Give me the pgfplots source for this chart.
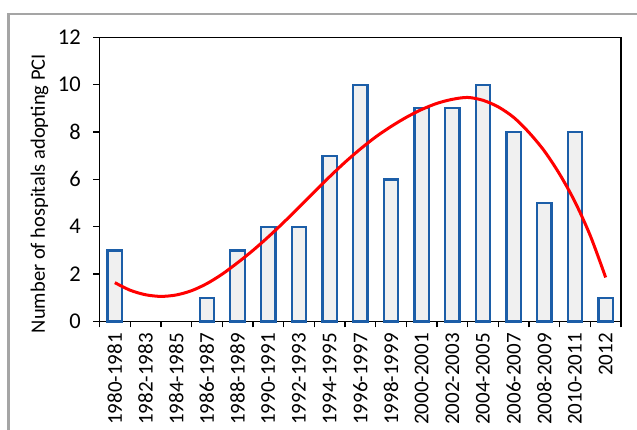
\documentclass[border=0pt]{standalone}
\usepackage{fontspec}
\setmainfont{Carlito}
\usepackage{pgfplots}
\pgfplotsset{compat=1.18}
\definecolor{barblue}{RGB}{28,94,168}
\definecolor{barfill}{RGB}{240,240,240}
\definecolor{framegray}{RGB}{165,165,165}
\begin{document}
\begin{tikzpicture}[x=1pt,y=1pt]
\path[use as bounding box] (0,0) rectangle (637,430);
\draw[framegray, line width=2.7pt] (8.7,0) -- (8.7,416) -- (637,416);
\begin{axis}[
  at={(99.5pt,108.5pt)}, anchor=south west,
  scale only axis, width=521.5pt, height=284.2pt,
  xmin=-0.5, xmax=16.5, ymin=0, ymax=12,
  axis line style={black, line width=1.3pt},
  every tick/.style={black, line width=1.3pt},
  tick align=outside,
  major tick length=6pt,
  ytick={0,2,...,12},
  ytick pos=left,
  xtick pos=bottom,
  xtick={-0.5,0.5,...,16.5},
  xticklabels={},
  extra x ticks={0,...,16},
  extra x tick labels={1980-1981,1982-1983,1984-1985,1986-1987,1988-1989,1990-1991,1992-1993,1994-1995,1996-1997,1998-1999,2000-2001,2002-2003,2004-2005,2006-2007,2008-2009,2010-2011,2012},
  extra x tick style={major tick length=0pt, tick style={draw=none},
    xticklabel style={rotate=90, anchor=east, inner xsep=11.5pt, font=\fontsize{21}{22}\selectfont}},
  /pgf/number format/assume math mode=true,
  yticklabel style={font=\fontsize{22.5}{24}\selectfont, inner xsep=0pt, xshift=-12.5pt},
  ylabel={Number of hospitals adopting PCI},
  ylabel style={font=\fontsize{20.5}{22}\selectfont, at={(axis description cs:-0.1045,0.45)}, anchor=base},
  clip=false,
]
\addplot[ybar, bar width=14.4pt, draw=barblue, fill=barfill, line width=2.3pt]
  coordinates {(0,3) (3,1) (4,3) (5,4) (6,4) (7,7) (8,10) (9,6) (10,9) (11,9) (12,10) (13,8) (14,5) (15,8) (16,1)};
\addplot[red, line width=3pt, smooth, no markers]
  coordinates {
  (0,1.64) (0.5,1.32) (1.0,1.13) (1.5,1.06) (2.0,1.12) (2.5,1.30) (3.0,1.60)
  (3.5,2.00) (4.0,2.48) (4.5,3.00) (5.0,3.57) (5.5,4.18) (6.0,4.82) (6.5,5.47)
  (7.0,6.11) (7.5,6.72) (8.0,7.28) (8.5,7.79) (9.0,8.23) (9.5,8.62) (10.0,8.95)
  (10.5,9.21) (11.0,9.38) (11.5,9.46) (12.0,9.34) (12.5,9.06) (13.0,8.62)
  (13.5,7.98) (14.0,7.20) (14.5,6.22) (15.0,5.05) (15.5,3.62) (16.0,1.86)};
\end{axis}
\end{tikzpicture}
\end{document}
